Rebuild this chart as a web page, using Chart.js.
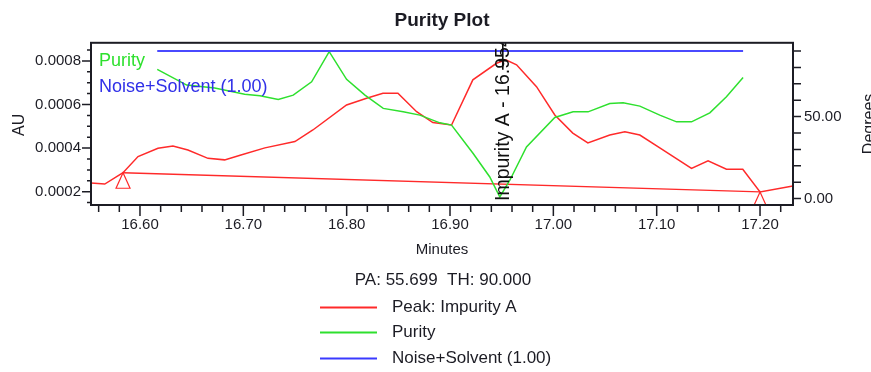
<!DOCTYPE html>
<html>
<head>
<meta charset="utf-8">
<title>Purity Plot</title>
<script src="https://cdn.jsdelivr.net/npm/chart.js@4.4.1/dist/chart.umd.min.js"></script>
<style>
  html, body { margin: 0; padding: 0; background: #ffffff; }
  canvas { display: block; }
</style>
</head>
<body>
<canvas id="c" width="871" height="372"></canvas>
<script>
// Chromatogram signal for the impurity peak (minutes, AU)
const peakMinutes = [16.5497, 16.5659, 16.5836, 16.5981, 16.6174, 16.6319, 16.6464, 16.6658, 16.6819, 16.6977,
  16.7209, 16.7499, 16.7673, 16.7999, 16.8193, 16.8351, 16.8496, 16.8677, 16.8834, 16.9015,
  16.9221, 16.9450, 16.9540, 16.9644, 16.9837, 17.0014, 17.0188, 17.0334, 17.0546, 17.0692,
  17.0837, 17.1030, 17.1337, 17.1497, 17.1675, 17.1833, 17.2000, 17.2317];
const peakAU = [0.000241, 0.000235, 0.000287, 0.000361, 0.000399, 0.000410, 0.000391, 0.000353, 0.000346, 0.000368,
  0.000401, 0.000430, 0.000483, 0.000598, 0.000629, 0.000652, 0.000652, 0.000567, 0.000517, 0.000506,
  0.000713, 0.000789, 0.000805, 0.000782, 0.000682, 0.000552, 0.000469, 0.000424, 0.000460, 0.000475,
  0.000460, 0.000401, 0.000307, 0.000342, 0.000303, 0.000303, 0.000199, 0.000226];

// Integration baseline (start / end of peak)
const baselineMinutes = [16.5836, 17.2000];
const baselineAU = [0.000287, 0.000199];

// Purity angle across the peak (degrees)
const purityMinutes = [16.6167, 16.6452, 16.6723, 16.7013, 16.7161, 16.7338, 16.7483, 16.7661, 16.7831, 16.7999,
  16.8177, 16.8354, 16.8547, 16.8708, 16.8902, 16.9015, 16.9224, 16.9385, 16.9482, 16.9579,
  16.9740, 17.0014, 17.0191, 17.0336, 17.0546, 17.0675, 17.0837, 17.1030, 17.1192, 17.1337,
  17.1514, 17.1675, 17.1836];
const purityDegrees = [78.8, 69.2, 67.4, 63.7, 62.7, 60.5, 63.1, 71.2, 89.6, 72.7,
  63.1, 55.0, 52.9, 50.9, 46.2, 44.8, 27.5, 13.2, 1.0, 11.2,
  31.5, 49.5, 52.9, 52.9, 58.0, 58.4, 56.4, 50.9, 46.8, 46.8,
  52.3, 62.1, 73.9];

// Noise + solvent threshold angle (degrees)
const noiseMinutes = [16.6167, 17.1836];
const noiseDegrees = [90.0, 90.0];

// Axis ticks
const minuteTicks = [16.60, 16.70, 16.80, 16.90, 17.00, 17.10, 17.20];
const auTicks = [0.0002, 0.0004, 0.0006, 0.0008];
const degreeTicks = [0, 50];

// Peak information
const peakName = 'Impurity A';
const peakApexIndex = 22;
const purityAngle = 55.699;
const purityThreshold = 90.000;

const RED = '#ff2a2a';
const GREEN = '#2ee02e';
const BLUE = '#3a3aff';
const INK = '#1c1c24';
const FONT = '"Liberation Sans", Arial, Helvetica, sans-serif';

const pts = (xs, ys) => xs.map((v, i) => ({ x: v, y: ys[i] }));

// Frame, tick marks, in-plot labels, peak marker and bottom legend
const purityOverlay = {
  id: 'purityOverlay',
  beforeDraw(chart) {
    const ctx = chart.ctx;
    ctx.save();
    ctx.fillStyle = '#ffffff';
    ctx.fillRect(0, 0, chart.width, chart.height);
    ctx.restore();
  },
  afterDraw(chart) {
    const { ctx, chartArea: a, scales } = chart;
    const sx = scales.x, sl = scales.yAU, sr = scales.yDeg;

    // marks that live inside the plot area
    ctx.save();
    ctx.beginPath();
    ctx.rect(a.left, a.top, a.right - a.left, a.bottom - a.top);
    ctx.clip();

    // baseline start / end markers
    ctx.strokeStyle = RED;
    ctx.lineWidth = 1.2;
    baselineMinutes.forEach((m, i) => {
      const px = sx.getPixelForValue(m), py = sl.getPixelForValue(baselineAU[i]);
      ctx.beginPath();
      ctx.moveTo(px, py);
      ctx.lineTo(px - 7, py + 15.5);
      ctx.lineTo(px + 7, py + 15.5);
      ctx.closePath();
      ctx.stroke();
    });

    // apex marker and peak name
    const apexMin = peakMinutes[peakApexIndex];
    const ax = sx.getPixelForValue(apexMin), ay = sl.getPixelForValue(peakAU[peakApexIndex]);
    ctx.strokeStyle = '#000';
    ctx.lineWidth = 1.5;
    ctx.beginPath();
    ctx.moveTo(ax - 3, a.top);
    ctx.lineTo(ax - 3, ay + 10);
    ctx.moveTo(ax - 7, ay + 1);
    ctx.lineTo(ax + 1, ay + 1);
    ctx.stroke();

    ctx.save();
    ctx.translate(ax + 3, a.bottom - 4);
    ctx.rotate(-Math.PI / 2);
    ctx.font = '19.5px ' + FONT;
    ctx.fillStyle = '#111';
    ctx.textAlign = 'left';
    ctx.textBaseline = 'alphabetic';
    ctx.fillText(peakName + ' - ' + apexMin.toFixed(3), 0, 0);
    ctx.restore();

    // in-plot series labels
    ctx.font = '18px ' + FONT;
    ctx.textAlign = 'left';
    ctx.textBaseline = 'middle';
    ctx.fillStyle = GREEN;
    ctx.fillText('Purity', a.left + 8, sl.getPixelForValue(0.0008));
    ctx.fillStyle = '#3030e8';
    ctx.fillText('Noise+Solvent (1.00)', a.left + 8, a.top + 44);
    ctx.restore();

    // frame
    ctx.save();
    ctx.strokeStyle = INK;
    ctx.lineWidth = 2;
    ctx.strokeRect(a.left, a.top, a.right - a.left, a.bottom - a.top);

    // tick marks
    ctx.lineWidth = 1.5;
    ctx.beginPath();
    for (let k = 0; k <= 34; k++) {           // minutes, every 0.02
      const v = 16.56 + k * 0.02;
      if (v < sx.min || v > sx.max) continue;
      const major = Math.abs(v * 10 - Math.round(v * 10)) < 1e-6;
      const px = sx.getPixelForValue(v);
      ctx.moveTo(px, a.bottom);
      ctx.lineTo(px, a.bottom + (major ? 11 : 7));
    }
    for (let k = 3; k <= 17; k++) {           // AU, every 0.00005
      const v = k * 0.00005;
      if (v < sl.min || v > sl.max) continue;
      const major = k % 4 === 0;
      const py = sl.getPixelForValue(v);
      ctx.moveTo(a.left, py);
      ctx.lineTo(a.left - (major ? 9 : 4), py);
    }
    for (let k = 0; k <= 9; k++) {            // degrees, every 10
      const py = sr.getPixelForValue(k * 10);
      ctx.moveTo(a.right, py);
      ctx.lineTo(a.right + 8, py);
    }
    ctx.stroke();

    // axis titles
    ctx.fillStyle = INK;
    ctx.font = '16px ' + FONT;
    ctx.textAlign = 'center';
    ctx.textBaseline = 'alphabetic';
    ctx.save();
    ctx.translate(24, (a.top + a.bottom) / 2 + 1);
    ctx.rotate(-Math.PI / 2);
    ctx.fillText('AU', 0, 0);
    ctx.restore();
    ctx.save();
    ctx.translate(874, (a.top + a.bottom) / 2);
    ctx.rotate(-Math.PI / 2);
    ctx.fillText('Degrees', 0, 0);
    ctx.restore();

    ctx.font = '15px ' + FONT;
    ctx.textBaseline = 'middle';
    ctx.fillText('Minutes', (a.left + a.right) / 2, 250);

    // purity summary
    ctx.font = '17px ' + FONT;
    ctx.fillText('PA: ' + purityAngle.toFixed(3) + '  TH: ' + purityThreshold.toFixed(3), (a.left + a.right) / 2 + 1, 280);

    // legend
    const entries = [
      { label: chart.data.datasets[3].label, color: RED },
      { label: chart.data.datasets[1].label, color: GREEN },
      { label: chart.data.datasets[0].label, color: BLUE }
    ];
    const rows = [307.5, 332.5, 358.5];
    ctx.textAlign = 'left';
    entries.forEach((e, i) => {
      ctx.strokeStyle = e.color;
      ctx.lineWidth = 2;
      ctx.beginPath();
      ctx.moveTo(320, rows[i]);
      ctx.lineTo(377, rows[i]);
      ctx.stroke();
      ctx.fillStyle = INK;
      ctx.fillText(e.label, 392, rows[i] - 0.5);
    });
    ctx.restore();
  }
};

const tickFont = { family: FONT, size: 15 };

new Chart(document.getElementById('c'), {
  type: 'line',
  data: {
    datasets: [
      { label: 'Noise+Solvent (1.00)', data: pts(noiseMinutes, noiseDegrees), yAxisID: 'yDeg',
        borderColor: '#4a4aff', borderWidth: 2 },
      { label: 'Purity', data: pts(purityMinutes, purityDegrees), yAxisID: 'yDeg',
        borderColor: GREEN, borderWidth: 1.5 },
      { label: 'Baseline', data: pts(baselineMinutes, baselineAU), yAxisID: 'yAU',
        borderColor: RED, borderWidth: 1.3 },
      { label: 'Peak: ' + peakName, data: pts(peakMinutes, peakAU), yAxisID: 'yAU',
        borderColor: RED, borderWidth: 1.5 }
    ]
  },
  options: {
    responsive: false,
    animation: false,
    devicePixelRatio: 1,
    elements: { point: { radius: 0 }, line: { tension: 0, fill: false } },
    layout: { padding: 0 },
    plugins: {
      legend: { display: false },
      tooltip: { enabled: false },
      title: {
        display: true,
        text: 'Purity Plot',
        fullSize: false,
        color: INK,
        font: { family: FONT, size: 19, weight: 'bold' },
        padding: { top: 9, bottom: 11 }
      }
    },
    scales: {
      x: {
        type: 'linear',
        position: 'bottom',
        min: 16.5526,
        max: 17.2319,
        afterFit(s) { s.height = 167; },
        afterBuildTicks(s) { s.ticks = minuteTicks.map(v => ({ value: v })); },
        ticks: { callback: v => Number(v).toFixed(2), font: tickFont, color: INK, padding: 11,
                 maxRotation: 0, autoSkip: false },
        grid: { display: false, drawTicks: false },
        border: { display: false }
      },
      yAU: {
        type: 'linear',
        position: 'left',
        min: 0.000139,
        max: 0.000883,
        afterFit(s) { s.width = 91; },
        afterBuildTicks(s) { s.ticks = auTicks.map(v => ({ value: v })); },
        ticks: { callback: v => Number(v).toFixed(4), font: tickFont, color: INK, padding: 10, autoSkip: false },
        grid: { display: false, drawTicks: false },
        border: { display: false }
      },
      yDeg: {
        type: 'linear',
        position: 'right',
        min: -3.9,
        max: 95.0,
        afterFit(s) { s.width = 78; },
        afterBuildTicks(s) { s.ticks = degreeTicks.map(v => ({ value: v })); },
        ticks: { callback: v => Number(v).toFixed(2), font: tickFont, color: INK, padding: 11, autoSkip: false },
        grid: { display: false, drawTicks: false },
        border: { display: false }
      }
    }
  },
  plugins: [purityOverlay]
});
</script>
</body>
</html>
